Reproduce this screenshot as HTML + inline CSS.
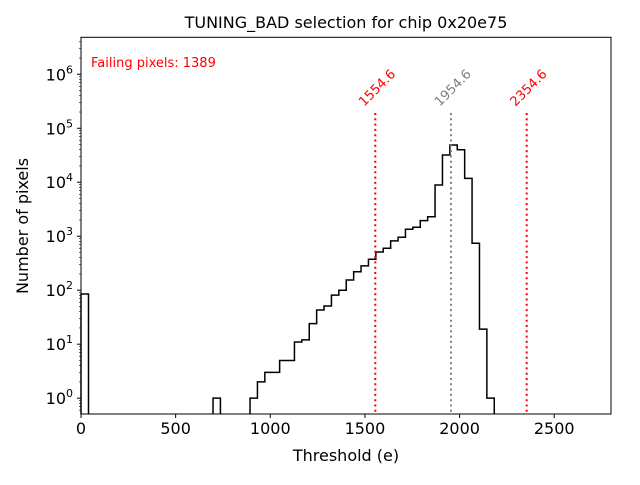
<!DOCTYPE html>
<html><head><meta charset="utf-8"><style>
body{margin:0;background:#fff}
svg text{font-family:"DejaVu Sans","Liberation Sans",sans-serif}
</style></head><body>
<svg id="c" width="640" height="480" viewBox="0 0 640 480">
<rect width="640" height="480" fill="#fff"/>
<text x="346" y="28" font-size="16" text-anchor="middle">TUNING_BAD selection for chip 0x20e75</text>
<text x="91" y="67" font-size="13" fill="red">Failing pixels: 1389</text>
<text x="346" y="461" font-size="16" text-anchor="middle">Threshold (e)</text>
<text transform="translate(28,226) rotate(-90)" font-size="16" text-anchor="middle">Number of pixels</text>
<g id="plot"></g>
</svg>
<script>
const firstBins = [[0, 39.6, 85], [697.5, 736.6, 1]];
const mainStart = 893;
const mainWidth = 39.1;
const mainCounts = [1,2,3,3,5,5,11,12,24,43,51,81,100,155,220,282,375,510,600,820,960,1350,1470,1950,2300,8900,32000,49000,40000,11800,740,19,1];
const xTicks = [0,500,1000,1500,2000,2500];
const yDecades = [0,1,2,3,4,5,6];
const vLines = [1554.6, 1954.6, 2354.6];
const vColors = ['red','gray','red'];

const L=81,R=611,T=37.3,B=414;
const xMax=2800, yLo=-0.293, yHi=6.685;
const X=v=>L+(v/xMax)*(R-L);
const Y=c=>c<=0?B:B-(Math.log10(c)-yLo)/(yHi-yLo)*(B-T);
const NS='http://www.w3.org/2000/svg';
const g=document.getElementById('plot');
function mk(tag,attrs){const e=document.createElementNS(NS,tag);for(const k in attrs)e.setAttribute(k,attrs[k]);g.appendChild(e);return e;}

let p=`M${X(firstBins[0][0])},${B}V${Y(firstBins[0][2])}H${X(firstBins[0][1])}V${B}`;
p+=`M${X(firstBins[1][0])},${B}V${Y(firstBins[1][2])}H${X(firstBins[1][1])}V${B}`;
p+=`M${X(mainStart)},${B}`;
mainCounts.forEach((c,i)=>{p+=`V${Y(c)}H${X(mainStart+(i+1)*mainWidth)}`;});
p+=`V${B}`;
const hist=mk('path',{d:p,fill:'none',stroke:'#000','stroke-width':1.5});



vLines.forEach((v,i)=>{
  const ln=mk('line',{x1:X(v),x2:X(v),y1:113,y2:B,stroke:vColors[i],'stroke-width':2,'stroke-dasharray':'2,3.3'});
  
  
  const t=mk('text',{transform:`translate(${X(v)+2},${88}) rotate(-45)`,'font-size':13,fill:vColors[i],'text-anchor':'middle',x:0,y:4});
  t.textContent=v.toFixed(1);
  
  
});

const frame=mk('rect',{x:L,y:T,width:R-L,height:B-T,fill:'none',stroke:'#000','stroke-width':1});



xTicks.forEach(v=>{
  const tk=mk('line',{x1:X(v),x2:X(v),y1:B,y2:B+4,stroke:'#000'});
  
  
  const t=mk('text',{x:X(v),y:B+20,'font-size':16,'text-anchor':'middle'});
  t.textContent=v;
  
  
});
yDecades.forEach(e=>{
  const y=Y(Math.pow(10,e));
  const tk=mk('line',{x1:L-4,x2:L,y1:y,y2:y,stroke:'#000'});
  
  
  const t=mk('text',{x:L-8,y:y+6,'font-size':16,'text-anchor':'end'});
  t.innerHTML=`10<tspan dy="-7" font-size="11">${e}</tspan>`;
  
  
});
for(let e=-1;e<=6;e++){for(let m=2;m<=9;m++){const c=m*Math.pow(10,e);const y=Y(c);if(y<T||y>B)continue;
  const tk=mk('line',{x1:L-2,x2:L,y1:y,y2:y,stroke:'#000','stroke-width':0.6});
  
  }}
</script>
</body></html>
